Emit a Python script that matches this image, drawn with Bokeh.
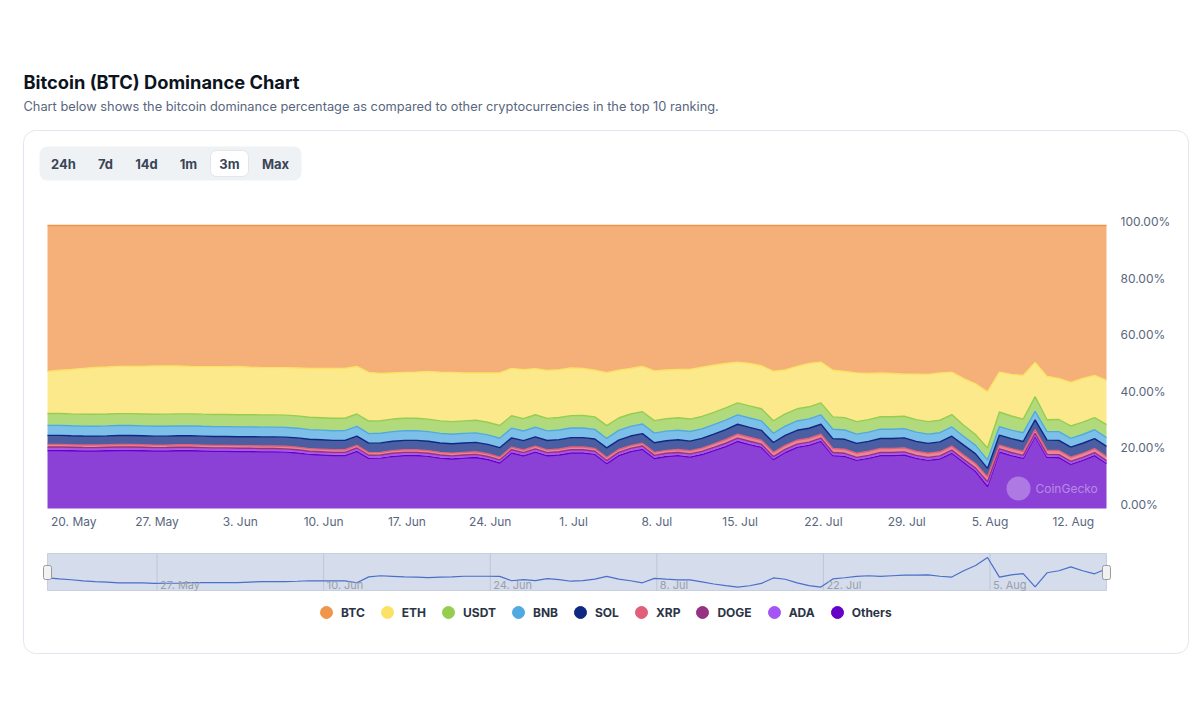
import numpy as np
import pandas as pd
from bokeh.plotting import figure
from bokeh.models import (ColumnDataSource, Range1d, Label, Legend, LegendItem)
from bokeh.core.properties import value
from bokeh.embed import file_html
from bokeh.resources import INLINE

# ---------------- data (percent share, daily) ----------------
dates = pd.date_range("2024-05-17 19:00", periods=90, freq="D")

btc = [51.6, 51.2, 50.9, 50.5, 50.2, 50.0, 49.8, 49.8, 49.8, 49.6,
       49.6, 49.6, 49.8, 49.8, 49.8, 49.8, 49.8, 50.0, 50.2, 50.2,
       50.2, 50.3, 50.5, 50.5, 50.5, 50.5, 49.8, 51.9, 52.3, 52.1,
       51.9, 51.8, 51.6, 51.8, 51.9, 52.1, 52.1, 52.1, 52.1, 50.5,
       50.9, 50.5, 51.2, 50.9, 50.3, 50.5, 51.1, 52.1, 51.1, 50.5,
       49.8, 51.4, 51.1, 50.9, 50.9, 50.2, 49.5, 48.8, 48.3, 48.8,
       49.6, 51.6, 51.1, 49.8, 48.8, 48.3, 51.2, 51.6, 52.1, 52.3,
       52.1, 52.3, 52.5, 52.5, 52.6, 52.1, 51.8, 54.1, 56.0, 58.9,
       51.9, 52.6, 53.0, 48.3, 53.4, 54.1, 55.5, 54.1, 53.0, 54.8]
eth = [14.9, 15.3, 15.7, 16.2, 16.5, 16.6, 16.7, 16.7, 16.8, 17.1,
       17.0, 16.9, 16.7, 16.8, 16.9, 16.9, 17.0, 16.8, 16.7, 16.7,
       16.8, 16.9, 17.2, 17.4, 17.6, 17.6, 16.8, 17.2, 16.7, 16.3,
       16.2, 16.3, 16.8, 17.2, 17.4, 16.9, 16.7, 17.4, 18.6, 16.7,
       17.3, 16.3, 16.9, 16.9, 16.8, 16.6, 16.5, 18.7, 16.9, 16.1,
       16.0, 17.6, 17.2, 17.1, 17.6, 17.4, 16.7, 15.7, 14.4, 15.0,
       15.2, 17.5, 15.5, 15.0, 15.3, 14.4, 16.5, 16.3, 17.2, 16.3,
       15.5, 15.3, 14.9, 16.1, 16.7, 16.7, 15.0, 16.5, 18.0, 19.9,
       14.1, 14.7, 15.4, 12.1, 15.3, 14.5, 15.4, 15.4, 14.9, 15.6]
usdt = [4.20, 4.20, 4.21, 4.22, 4.22, 4.22, 4.21, 4.21, 4.22, 4.23,
        4.28, 4.28, 4.28, 4.29, 4.30, 4.30, 4.30, 4.31, 4.32, 4.32,
        4.33, 4.36, 4.38, 4.40, 4.40, 4.40, 4.36, 4.44, 4.44, 4.42,
        4.41, 4.41, 4.42, 4.43, 4.44, 4.43, 4.43, 4.45, 4.50, 4.38,
        4.40, 4.38, 4.40, 4.40, 4.38, 4.38, 4.40, 4.52, 4.40, 4.36,
        4.34, 4.42, 4.40, 4.40, 4.42, 4.40, 4.36, 4.32, 4.26, 4.28,
        4.30, 4.42, 4.34, 4.30, 4.28, 4.26, 4.38, 4.38, 4.42, 4.40,
        4.38, 4.38, 4.38, 4.40, 4.42, 4.40, 4.36, 4.00, 3.80, 4.20,
        5.20, 5.00, 4.80, 5.20, 4.20, 4.30, 4.40, 4.40, 4.30, 4.60]
bnb = [3.52, 3.52, 3.51, 3.50, 3.50, 3.50, 3.50, 3.50, 3.49, 3.49,
       3.48, 3.48, 3.48, 3.47, 3.47, 3.46, 3.46, 3.45, 3.45, 3.44,
       3.44, 3.43, 3.42, 3.42, 3.41, 3.41, 3.44, 3.38, 3.38, 3.40,
       3.40, 3.40, 3.40, 3.38, 3.38, 3.38, 3.38, 3.37, 3.34, 3.42,
       3.40, 3.42, 3.40, 3.40, 3.41, 3.41, 3.40, 3.34, 3.40, 3.42,
       3.43, 3.38, 3.39, 3.38, 3.37, 3.36, 3.35, 3.33, 3.32, 3.32,
       3.32, 3.28, 3.30, 3.30, 3.31, 3.31, 3.28, 3.28, 3.27, 3.27,
       3.28, 3.28, 3.28, 3.26, 3.25, 3.25, 3.26, 3.05, 3.00, 3.00,
       2.95, 3.00, 3.08, 3.00, 3.02, 3.08, 3.10, 3.10, 3.12, 3.10]
sol = [3.20, 3.20, 3.18, 3.18, 3.17, 3.17, 3.18, 3.18, 3.17, 3.16,
       3.16, 3.17, 3.17, 3.16, 3.16, 3.16, 3.17, 3.18, 3.20, 3.22,
       3.24, 3.26, 3.28, 3.30, 3.30, 3.32, 3.30, 3.34, 3.34, 3.32,
       3.32, 3.31, 3.30, 3.30, 3.32, 3.30, 3.30, 3.32, 3.36, 3.28,
       3.30, 3.28, 3.30, 3.30, 3.28, 3.30, 3.32, 3.40, 3.34, 3.36,
       3.40, 3.42, 3.40, 3.42, 3.44, 3.46, 3.48, 3.50, 3.52, 3.50,
       3.50, 3.48, 3.50, 3.50, 3.52, 3.52, 3.50, 3.50, 3.48, 3.50,
       3.52, 3.52, 3.50, 3.50, 3.48, 3.50, 3.52, 3.50, 3.50, 3.00,
       3.55, 3.52, 3.50, 3.40, 3.60, 3.58, 3.55, 3.55, 3.52, 3.55]
xrp = [0.92, 0.91, 0.90, 0.90, 0.89, 0.89, 0.90, 0.90, 0.89, 0.88,
       0.88, 0.89, 0.89, 0.88, 0.88, 0.88, 0.89, 0.89, 0.90, 0.90,
       0.90, 0.91, 0.92, 0.93, 0.93, 0.93, 0.90, 0.94, 0.94, 0.93,
       0.93, 0.93, 0.92, 0.93, 0.94, 0.93, 0.93, 0.95, 0.98, 0.92,
       0.94, 0.95, 0.98, 0.98, 0.97, 0.97, 1.00, 1.08, 1.02, 0.98,
       0.97, 1.05, 1.04, 1.06, 1.10, 1.14, 1.22, 1.32, 1.38, 1.42,
       1.40, 1.50, 1.42, 1.40, 1.38, 1.36, 1.42, 1.44, 1.46, 1.45,
       1.42, 1.42, 1.43, 1.44, 1.45, 1.44, 1.40, 1.50, 1.55, 1.75,
       1.32, 1.38, 1.40, 1.30, 1.42, 1.45, 1.50, 1.46, 1.42, 1.48]
doge = [0.68, 0.68, 0.67, 0.67, 0.66, 0.66, 0.67, 0.67, 0.67, 0.66,
        0.66, 0.66, 0.66, 0.65, 0.65, 0.65, 0.65, 0.64, 0.64, 0.64,
        0.64, 0.63, 0.62, 0.62, 0.62, 0.62, 0.64, 0.60, 0.60, 0.61,
        0.61, 0.61, 0.61, 0.60, 0.60, 0.60, 0.60, 0.59, 0.57, 0.62,
        0.61, 0.62, 0.61, 0.61, 0.62, 0.62, 0.61, 0.57, 0.60, 0.62,
        0.63, 0.59, 0.60, 0.60, 0.60, 0.61, 0.62, 0.63, 0.64, 0.63,
        0.62, 0.58, 0.61, 0.62, 0.63, 0.64, 0.60, 0.60, 0.59, 0.59,
        0.60, 0.60, 0.60, 0.59, 0.58, 0.59, 0.60, 0.58, 0.62, 0.85,
        0.62, 0.60, 0.59, 0.64, 0.58, 0.58, 0.57, 0.58, 0.59, 0.57]
ada = [0.58, 0.58, 0.57, 0.57, 0.57, 0.56, 0.56, 0.56, 0.56, 0.55,
       0.55, 0.55, 0.55, 0.55, 0.54, 0.54, 0.54, 0.54, 0.54, 0.53,
       0.53, 0.53, 0.52, 0.52, 0.52, 0.52, 0.54, 0.51, 0.51, 0.52,
       0.52, 0.52, 0.52, 0.51, 0.51, 0.51, 0.51, 0.50, 0.49, 0.53,
       0.52, 0.53, 0.52, 0.52, 0.53, 0.53, 0.52, 0.49, 0.52, 0.53,
       0.54, 0.51, 0.52, 0.52, 0.52, 0.52, 0.53, 0.54, 0.55, 0.54,
       0.53, 0.50, 0.52, 0.53, 0.54, 0.55, 0.51, 0.51, 0.50, 0.50,
       0.51, 0.51, 0.51, 0.50, 0.50, 0.50, 0.51, 0.50, 0.55, 0.80,
       0.50, 0.49, 0.48, 0.52, 0.48, 0.48, 0.47, 0.48, 0.49, 0.47]
others = [20.5, 20.5, 20.4, 20.3, 20.3, 20.4, 20.5, 20.5, 20.4, 20.3,
          20.3, 20.4, 20.4, 20.3, 20.2, 20.2, 20.1, 20.1, 20.0, 20.0,
          19.9, 19.6, 19.1, 18.9, 18.7, 18.7, 20.2, 17.7, 17.8, 18.4,
          18.7, 18.7, 18.4, 17.8, 17.5, 17.8, 18.0, 17.3, 16.1, 19.6,
          18.6, 19.9, 18.6, 18.9, 19.6, 19.6, 19.1, 15.9, 18.7, 20.1,
          20.9, 17.7, 18.4, 18.7, 18.2, 19.1, 20.5, 21.9, 23.7, 22.6,
          21.6, 17.3, 19.8, 21.6, 22.3, 23.7, 18.7, 18.4, 17.0, 17.7,
          18.7, 18.7, 18.9, 17.7, 17.0, 17.5, 19.5, 16.3, 13.1, 7.8,
          20.0, 18.7, 17.7, 25.4, 18.1, 18.0, 15.6, 17.0, 18.7, 15.9]

series_names = ["BTC", "ETH", "USDT", "BNB", "SOL", "XRP", "DOGE", "ADA", "Others"]
series_colors = ["#F0964B", "#FBE266", "#96CD50", "#50AAE1", "#0F2882",
                 "#E15F78", "#963282", "#A555F5", "#6400C8"]

x_tick_dates = ["2024-05-20", "2024-05-27", "2024-06-03", "2024-06-10", "2024-06-17",
                "2024-06-24", "2024-07-01", "2024-07-08", "2024-07-15", "2024-07-22",
                "2024-07-29", "2024-08-05", "2024-08-12"]
x_tick_labels = ["20. May", "27. May", "3. Jun", "10. Jun", "17. Jun", "24. Jun", "1. Jul",
                 "8. Jul", "15. Jul", "22. Jul", "29. Jul", "5. Aug", "12. Aug"]
nav_tick_dates = ["2024-05-27", "2024-06-10", "2024-06-24", "2024-07-08", "2024-07-22", "2024-08-05"]
nav_tick_labels = ["27. May", "10. Jun", "24. Jun", "8. Jul", "22. Jul", "5. Aug"]
y_ticks = [0, 20, 40, 60, 80, 100]
range_buttons = ["24h", "7d", "14d", "1m", "3m", "Max"]
selected_button = "3m"

title_text = "Bitcoin (BTC) Dominance Chart"
subtitle_text = ("Chart below shows the bitcoin dominance percentage as compared to other "
                 "cryptocurrencies in the top 10 ranking.")

# ---------------- helpers / stacking ----------------
def ms(d):
    return int(pd.Timestamp(d).timestamp() * 1000)

xs = [ms(d) for d in dates]
vals = dict(zip(series_names, [btc, eth, usdt, bnb, sol, xrp, doge, ada, others]))
cols = dict(zip(series_names, series_colors))
arr = {n: np.array(v, dtype=float) for n, v in vals.items()}
total = sum(arr.values())

cum = np.zeros(len(xs))
layers = []
for n in series_names[::-1]:          # "Others" at the bottom, percent stacking
    lo = cum / total * 100.0
    cum = cum + arr[n]
    hi = cum / total * 100.0
    layers.append((n, lo, hi))
btc_share = layers[-1][2] - layers[-1][1]

FONT = "Inter"
AXIS_COLOR = "#58667e"

# ---------------- page geometry (pixels, y measured from top) ----------------
W, H = 1200, 720
CH_L, CH_R, CH_T, CH_B = 47, 1106, 225, 508      # main plot area
NV_T, NV_B = 553, 590                            # navigator band
def Y(py):
    return H - py

p = figure(width=W, height=H, x_range=Range1d(0, W), y_range=Range1d(0, H),
           x_axis_location=None, y_axis_location=None, toolbar_location=None,
           output_backend="svg", min_border=0, min_border_left=0, min_border_right=0,
           min_border_top=0, min_border_bottom=0, outline_line_color=None,
           background_fill_color="white", border_fill_color="white")
p.grid.visible = False

# scales for the data, mapped onto the plot-area / navigator bands
date_pp = (xs[-1] - xs[0]) / (CH_R - CH_L)
pct_pp = 100.0 / (CH_B - CH_T)
nav_lo = float(btc_share.min()) - 1.2
nav_hi = float(btc_share.max()) + 1.4
nav_pp = (nav_hi - nav_lo) / (NV_B - NV_T)
p.extra_x_ranges = {"date": Range1d(xs[0] - CH_L * date_pp, xs[-1] + (W - CH_R) * date_pp)}
p.extra_y_ranges = {"pct": Range1d(0 - (H - CH_B) * pct_pp, 100 + CH_T * pct_pp),
                    "nav": Range1d(nav_lo - (H - NV_B) * nav_pp, nav_hi + NV_T * nav_pp)}

# card
p.quad(left=23, right=1188, top=Y(130), bottom=Y(653), fill_color="white",
       line_color="#e1e7ee", line_width=1, border_radius=12)

# header
p.add_layout(Label(x=23, y=Y(81), text=title_text, text_font=FONT, text_font_size="18.3px",
                   text_font_style="bold", text_color="#0d1421", text_baseline="middle"))
p.add_layout(Label(x=23, y=Y(106), text=subtitle_text, text_font=FONT, text_font_size="12.8px",
                   text_color="#58667e", text_baseline="middle"))

# range selector
p.quad(left=39, right=301, top=Y(146), bottom=Y(180), fill_color="#eff2f5",
       line_color=None, border_radius=8)
btn_centers = [63, 105, 146, 188, 229, 275]
sel = range_buttons.index(selected_button)
p.quad(left=btn_centers[sel] - 19, right=btn_centers[sel] + 19, top=Y(150), bottom=Y(176),
       fill_color="white", line_color="#e2e6eb", line_width=1, border_radius=6)
p.text(x=btn_centers, y=[Y(163)] * len(range_buttons), text=range_buttons,
       text_font=value(FONT), text_font_size=value("13px"), text_font_style="bold",
       text_color="#3a4556", text_align="center", text_baseline="middle")

# stacked percentage areas
for n, lo, hi in layers:
    src = ColumnDataSource(dict(x=xs, lo=lo, hi=hi))
    p.varea(x="x", y1="lo", y2="hi", source=src, fill_color=cols[n], fill_alpha=0.75,
            x_range_name="date", y_range_name="pct")
for n, lo, hi in layers:
    src = ColumnDataSource(dict(x=xs, hi=hi))
    p.line(x="x", y="hi", source=src, line_color=cols[n], line_width=1.4,
           x_range_name="date", y_range_name="pct")

# axis labels
xt = [ms(d) for d in x_tick_dates]
p.text(x=xt, y=[Y(521)] * len(xt), text=x_tick_labels, x_range_name="date",
       text_font=value(FONT), text_font_size=value("12px"), text_color=AXIS_COLOR,
       text_align="center", text_baseline="middle")
p.text(x=[1120] * len(y_ticks), y=y_ticks, text=[f"{t:.2f}%" for t in y_ticks],
       y_range_name="pct", y_offset=-4, text_font=value(FONT), text_font_size=value("12px"),
       text_color=AXIS_COLOR, text_align="left", text_baseline="middle")

# watermark
p.circle(x=[1018], y=[Y(488)], radius=12, fill_color="white", fill_alpha=0.3, line_color=None)
p.text(x=[1035], y=[Y(488)], text=["CoinGecko"], text_font=value(FONT),
       text_font_size=value("12px"), text_color="white", text_alpha=0.4, text_baseline="middle")

# navigator
p.quad(left=CH_L, right=CH_R, top=Y(NV_T), bottom=Y(NV_B), fill_color="#d5dcec",
       line_color="#c8d0df", line_width=1)
nt = [ms(d) for d in nav_tick_dates]
p.segment(x0=nt, x1=nt, y0=[Y(NV_T)] * len(nt), y1=[Y(NV_B)] * len(nt), x_range_name="date",
          line_color="#bdc6da", line_width=1)
p.line(x=xs, y=list(btc_share), x_range_name="date", y_range_name="nav",
       line_color="#4a6fc8", line_width=1.2)
p.text(x=nt, y=[Y(584)] * len(nt), text=nav_tick_labels, x_range_name="date", x_offset=3,
       text_font=value(FONT), text_font_size=value("11px"), text_color="#9aa0aa",
       text_align="left", text_baseline="middle")
for hx in (CH_L, CH_R):
    p.quad(left=hx - 4, right=hx + 4, top=Y(565), bottom=Y(579), fill_color="#f2f2f2",
           line_color="#9a9a9a", line_width=1, border_radius=2)

# legend
items = []
for n in series_names:
    r = p.scatter(x=[np.nan], y=[np.nan], marker="circle", size=12,
                  fill_color=cols[n], line_color=cols[n])
    items.append(LegendItem(label=n, renderers=[r]))
leg = Legend(items=items, orientation="horizontal", location=(311, Y(627)),
             glyph_width=30, glyph_height=30, label_standoff=0, spacing=7, padding=0, margin=0,
             border_line_color=None, background_fill_alpha=0,
             label_text_font=FONT, label_text_font_style="bold", label_text_font_size="12px",
             label_text_color="#2b3445")
p.add_layout(leg)

open("out.html", "w").write(file_html(p, INLINE))
